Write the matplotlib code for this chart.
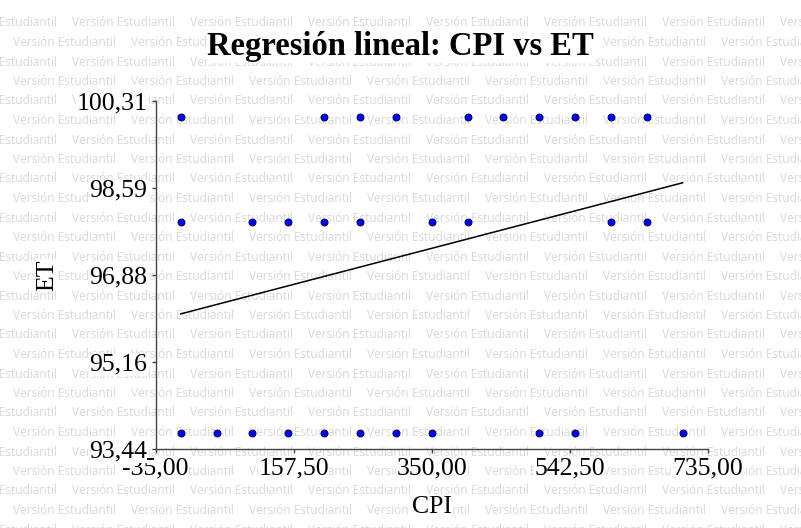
import matplotlib
matplotlib.use("Agg")
import matplotlib.pyplot as plt
import numpy as np

# data
cpi = [0, 200, 250, 300, 400, 450, 500, 550, 600, 650,
       0, 100, 150, 200, 250, 350, 400, 600, 650,
       0, 50, 100, 150, 200, 250, 300, 350, 500, 550, 700]
et = [100.0] * 10 + [97.92] * 9 + [93.75] * 11

# fitted line as drawn in the reference (intercept, slope)
fit_intercept = 96.11
fit_slope = 0.0037

x_ticks = [-35.0, 157.5, 350.0, 542.5, 735.0]
x_tick_labels = ["-35,00", "157,50", "350,00", "542,50", "735,00"]
y_ticks = [93.44, 95.1575, 96.875, 98.5925, 100.31]
y_tick_labels = ["93,44", "95,16", "96,88", "98,59", "100,31"]

W, H = 801, 528
fig = plt.figure(figsize=(W / 100, H / 100), dpi=100)
fig.patch.set_facecolor("white")

# watermark rows (student-version stamp); size it to ~103 px wide
wm = "Versión Estudiantil"
probe = fig.text(0, 0, wm, fontsize=10, family="Open Sans")
w10 = probe.get_window_extent(fig.canvas.get_renderer()).width
probe.remove()
wm_size = 10 * 103 / w10

period = 118
step = 19.5
for j in range(-4, 23):
    y_row = 101.0 + step * j
    x = 12.7 if j % 2 else 12.7 + period / 2 - period
    while x < W:
        fig.text(x / W, 1 - y_row / H, wm, ha="left", va="center",
                 fontsize=wm_size, family="Open Sans", color="#d8d8d8",
                 zorder=-5)
        x += period

serif = ["Liberation Serif", "DejaVu Serif"]
white = dict(facecolor="white", edgecolor="none", pad=0)

ax = fig.add_axes([155.7 / W, 1 - 449 / H, 552 / W, 347.7 / H])
ax.patch.set_visible(False)

ax.scatter(cpi, et, s=24, color="#0000ff", edgecolors="#000066",
           linewidths=0.8, zorder=3)
xs = np.array([min(cpi), max(cpi)])
ax.plot(xs, fit_intercept + fit_slope * xs, color="black", lw=1.1, zorder=2)

ax.set_xlim(x_ticks[0], x_ticks[-1])
ax.set_ylim(y_ticks[0], y_ticks[-1])
ax.set_xticks(x_ticks)
ax.set_xticklabels(x_tick_labels)
ax.set_yticks(y_ticks)
ax.set_yticklabels(y_tick_labels)

for side in ["top", "right"]:
    ax.spines[side].set_visible(False)
for side in ["left", "bottom"]:
    ax.spines[side].set_color("#444444")
    ax.spines[side].set_linewidth(1.0)
ax.tick_params(colors="#444444", length=3, width=1.0, pad=3,
               labelcolor="black", labelsize=18.5)

for lbl in ax.get_xticklabels() + ax.get_yticklabels():
    lbl.set_family(serif)
    lbl.set_bbox(white)

ax.set_xlabel("CPI", family=serif, fontsize=18.5, bbox=white)
ax.set_ylabel("ET", family=serif, fontsize=18.5, bbox=white)
ax.xaxis.set_label_coords(0.5, -0.135)
ax.yaxis.set_label_coords(-0.177, 0.5)

fig.text(0.5, 1 - 47 / H, "Regresión lineal: CPI vs ET", ha="center",
         va="center", family=serif, fontsize=23.5, fontweight="bold",
         bbox=white)

fig.savefig("out.png", dpi=100)
